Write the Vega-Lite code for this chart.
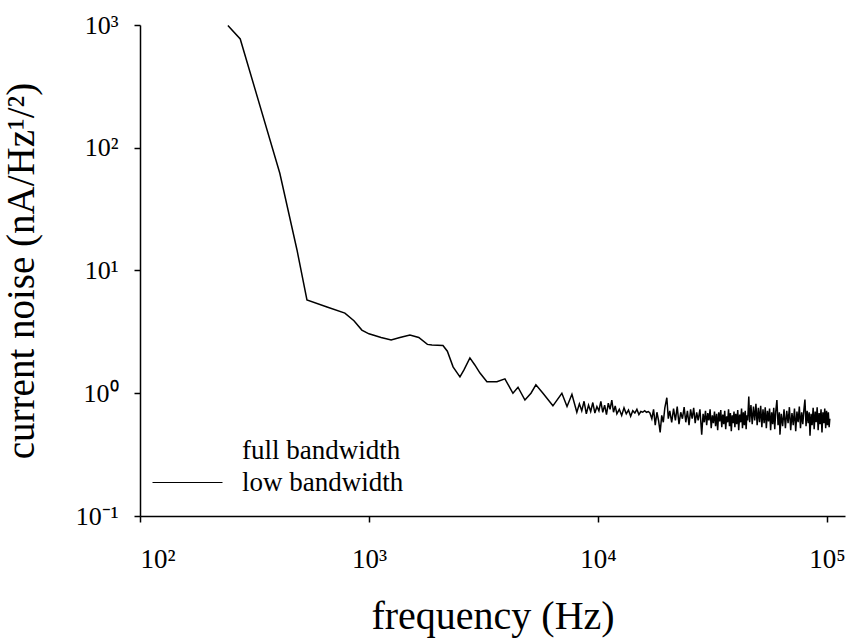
{
  "$schema": "https://vega.github.io/schema/vega-lite/v6.json",
  "width": 705,
  "height": 491,
  "autosize": {"type": "none"},
  "padding": {"left": 140, "top": 25, "right": 3, "bottom": 123},
  "background": "white",
  "config": {
    "view": {"stroke": null},
    "font": "Liberation Serif",
    "axis": {
      "grid": false,
      "domainColor": "black",
      "tickColor": "black",
      "labelColor": "black",
      "titleColor": "black",
      "labelFont": "Liberation Serif",
      "titleFont": "Liberation Serif",
      "titleFontWeight": "normal",
      "domainWidth": 1.5,
      "tickWidth": 1.5
    }
  },
  "data": {
    "values": [
      {"f": 242, "v": 990}, {"f": 274, "v": 770}, {"f": 408, "v": 62}, {"f": 485, "v": 14.7},
      {"f": 536, "v": 5.75}, {"f": 656, "v": 5.05}, {"f": 785, "v": 4.5}, {"f": 860, "v": 3.9},
      {"f": 931, "v": 3.27}, {"f": 1000, "v": 3.05}, {"f": 1130, "v": 2.85}, {"f": 1250, "v": 2.72},
      {"f": 1365, "v": 2.85}, {"f": 1510, "v": 2.98}, {"f": 1650, "v": 2.85}, {"f": 1800, "v": 2.5},
      {"f": 1884, "v": 2.47}, {"f": 2105, "v": 2.45}, {"f": 2200, "v": 2.2}, {"f": 2330, "v": 1.64},
      {"f": 2497, "v": 1.36}, {"f": 2600, "v": 1.55}, {"f": 2760, "v": 1.94}, {"f": 2900, "v": 1.7},
      {"f": 3055, "v": 1.46}, {"f": 3275, "v": 1.24}, {"f": 3620, "v": 1.24}, {"f": 3925, "v": 1.31},
      {"f": 4255, "v": 1.0}, {"f": 4477, "v": 1.12}, {"f": 4800, "v": 0.88}, {"f": 5100, "v": 1.0},
      {"f": 5360, "v": 1.17}, {"f": 5755, "v": 1.0}, {"f": 6360, "v": 0.79}, {"f": 6960, "v": 1.0},
      {"f": 7330, "v": 0.78}, {"f": 7700, "v": 0.98}, {"f": 8090, "v": 0.70}, {"f": 8300, "v": 0.82},
      {"f": 8500, "v": 0.72}, {"f": 8700, "v": 0.86}, {"f": 8900, "v": 0.68}, {"f": 9100, "v": 0.80},
      {"f": 9300, "v": 0.71}, {"f": 9500, "v": 0.84}, {"f": 9700, "v": 0.69}, {"f": 9900, "v": 0.78},
      {"f": 10100, "v": 0.72}, {"f": 10300, "v": 0.86}, {"f": 10500, "v": 0.70}, {"f": 10700, "v": 0.80},
      {"f": 10900, "v": 0.67}, {"f": 11100, "v": 0.83}, {"f": 11300, "v": 0.74}, {"f": 11500, "v": 0.88},
      {"f": 11700, "v": 0.70}, {"f": 11900, "v": 0.79}, {"f": 12100, "v": 0.68}, {"f": 12400, "v": 0.74},
      {"f": 12700, "v": 0.66}, {"f": 13000, "v": 0.76}, {"f": 13300, "v": 0.68}, {"f": 13600, "v": 0.73},
      {"f": 13900, "v": 0.65}, {"f": 14200, "v": 0.72}, {"f": 14500, "v": 0.69}, {"f": 14800, "v": 0.74},
      {"f": 15100, "v": 0.67}, {"f": 15400, "v": 0.71}, {"f": 15700, "v": 0.70}, {"f": 16000, "v": 0.72},
      {"f": 16300, "v": 0.70}, {"f": 16600, "v": 0.71}, {"f": 16870, "v": 0.69}, {"f": 17200, "v": 0.62},
      {"f": 17500, "v": 0.74}, {"f": 17800, "v": 0.55}, {"f": 18100, "v": 0.70}, {"f": 18400, "v": 0.60},
      {"f": 18700, "v": 0.48}, {"f": 19000, "v": 0.66}, {"f": 19300, "v": 0.58}, {"f": 19600, "v": 0.76},
      {"f": 20000, "v": 0.92}, {"f": 20300, "v": 0.62}, {"f": 20600, "v": 0.72}, {"f": 21000, "v": 0.58},
      {"f": 21400, "v": 0.75}, {"f": 21800, "v": 0.60}, {"f": 22200, "v": 0.78}, {"f": 22600, "v": 0.56},
      {"f": 23000, "v": 0.70}, {"f": 23400, "v": 0.62}, {"f": 23800, "v": 0.77}, {"f": 24200, "v": 0.58},
      {"f": 24600, "v": 0.72}, {"f": 25000, "v": 0.55}, {"f": 25400, "v": 0.74}, {"f": 25800, "v": 0.62},
      {"f": 26200, "v": 0.76}, {"f": 26600, "v": 0.57}, {"f": 27000, "v": 0.70}, {"f": 27400, "v": 0.60},
      {"f": 27900, "v": 0.74}, {"f": 28400, "v": 0.46}, {"f": 28800, "v": 0.68}, {"f": 29150, "v": 0.58},
      {"f": 29500, "v": 0.72}, {"f": 29850, "v": 0.55}, {"f": 30200, "v": 0.69}, {"f": 30550, "v": 0.60},
      {"f": 30900, "v": 0.74}, {"f": 31250, "v": 0.52}, {"f": 31600, "v": 0.66}, {"f": 31950, "v": 0.57},
      {"f": 32300, "v": 0.71}, {"f": 32650, "v": 0.54}, {"f": 33000, "v": 0.68}, {"f": 33350, "v": 0.50},
      {"f": 33700, "v": 0.70}, {"f": 34050, "v": 0.59}, {"f": 34400, "v": 0.73}, {"f": 34750, "v": 0.53},
      {"f": 35100, "v": 0.67}, {"f": 35450, "v": 0.56}, {"f": 35800, "v": 0.72}, {"f": 36150, "v": 0.51},
      {"f": 36500, "v": 0.65}, {"f": 36850, "v": 0.58}, {"f": 37200, "v": 0.74}, {"f": 37550, "v": 0.54},
      {"f": 37900, "v": 0.69}, {"f": 38250, "v": 0.49}, {"f": 38600, "v": 0.66}, {"f": 38950, "v": 0.57},
      {"f": 39300, "v": 0.71}, {"f": 39650, "v": 0.53}, {"f": 40000, "v": 0.68}, {"f": 40400, "v": 0.56},
      {"f": 40800, "v": 0.73}, {"f": 41200, "v": 0.50}, {"f": 41600, "v": 0.67}, {"f": 42000, "v": 0.58},
      {"f": 42400, "v": 0.75}, {"f": 42800, "v": 0.52}, {"f": 43200, "v": 0.70}, {"f": 43600, "v": 0.55},
      {"f": 44000, "v": 0.72}, {"f": 44400, "v": 0.51}, {"f": 44700, "v": 0.66}, {"f": 45100, "v": 0.60},
      {"f": 45600, "v": 0.94}, {"f": 46000, "v": 0.58}, {"f": 46600, "v": 0.80}, {"f": 47200, "v": 0.56},
      {"f": 47800, "v": 0.78}, {"f": 48400, "v": 0.60}, {"f": 49000, "v": 0.82}, {"f": 49600, "v": 0.55},
      {"f": 50200, "v": 0.76}, {"f": 50800, "v": 0.58}, {"f": 51400, "v": 0.79}, {"f": 52000, "v": 0.53},
      {"f": 52600, "v": 0.74}, {"f": 53200, "v": 0.57}, {"f": 53800, "v": 0.77}, {"f": 54400, "v": 0.52},
      {"f": 55000, "v": 0.72}, {"f": 55600, "v": 0.59}, {"f": 56200, "v": 0.75}, {"f": 56800, "v": 0.50},
      {"f": 57400, "v": 0.70}, {"f": 58000, "v": 0.56}, {"f": 58600, "v": 0.76}, {"f": 59200, "v": 0.51},
      {"f": 59800, "v": 0.71}, {"f": 60500, "v": 0.88}, {"f": 61200, "v": 0.55}, {"f": 62000, "v": 0.70},
      {"f": 62400, "v": 0.46}, {"f": 63200, "v": 0.68}, {"f": 64100, "v": 0.54}, {"f": 65000, "v": 0.74},
      {"f": 65900, "v": 0.52}, {"f": 66800, "v": 0.72}, {"f": 67700, "v": 0.57}, {"f": 68600, "v": 0.77},
      {"f": 69500, "v": 0.50}, {"f": 70400, "v": 0.69}, {"f": 71300, "v": 0.55}, {"f": 72200, "v": 0.75},
      {"f": 73100, "v": 0.49}, {"f": 74000, "v": 0.71}, {"f": 74900, "v": 0.58}, {"f": 75800, "v": 0.78},
      {"f": 76700, "v": 0.52}, {"f": 77600, "v": 0.70}, {"f": 78500, "v": 0.56}, {"f": 79400, "v": 0.74},
      {"f": 80200, "v": 0.89}, {"f": 81100, "v": 0.54}, {"f": 82000, "v": 0.72}, {"f": 82900, "v": 0.57},
      {"f": 83700, "v": 0.70}, {"f": 84400, "v": 0.45}, {"f": 85300, "v": 0.68}, {"f": 86200, "v": 0.55},
      {"f": 87100, "v": 0.76}, {"f": 88000, "v": 0.51}, {"f": 88900, "v": 0.71}, {"f": 89800, "v": 0.58},
      {"f": 90700, "v": 0.77}, {"f": 91600, "v": 0.50}, {"f": 92500, "v": 0.69}, {"f": 93400, "v": 0.56},
      {"f": 94300, "v": 0.74}, {"f": 95200, "v": 0.48}, {"f": 96100, "v": 0.70}, {"f": 97000, "v": 0.57},
      {"f": 97900, "v": 0.75}, {"f": 98800, "v": 0.52}, {"f": 99700, "v": 0.72}, {"f": 100600, "v": 0.55},
      {"f": 101500, "v": 0.70}, {"f": 102300, "v": 0.53}, {"f": 103000, "v": 0.62}
    ]
  },
  "mark": {"type": "line", "strokeWidth": 1.5},
  "encoding": {
    "x": {
      "field": "f",
      "type": "quantitative",
      "scale": {"type": "log", "domain": [100, 120000]},
      "axis": {
        "values": [100, 1000, 10000, 100000],
        "labelExpr": "datum.value == 100 ? '10²' : datum.value == 1000 ? '10³' : datum.value == 10000 ? '10⁴' : '10⁵'",
        "labelFontSize": 27,
        "tickSize": 6,
        "labelPadding": 24,
        "title": "frequency (Hz)",
        "titleFontSize": 40,
        "titlePadding": 24
      }
    },
    "y": {
      "field": "v",
      "type": "quantitative",
      "scale": {"type": "log", "domain": [0.1, 1000]},
      "axis": {
        "values": [0.1, 1, 10, 100, 1000],
        "labelExpr": "datum.value < 0.5 ? '10⁻¹' : datum.value < 5 ? '10⁰' : datum.value < 50 ? '10¹' : datum.value < 500 ? '10²' : '10³'",
        "labelFontSize": 26,
        "tickSize": 6,
        "labelPadding": 16,
        "title": "current noise (nA/Hz¹/²)",
        "titleFontSize": 39,
        "titlePadding": 34
      }
    },
    "color": {
      "datum": "low bandwidth",
      "type": "nominal",
      "scale": {"domain": ["full bandwidth", "low bandwidth"], "range": ["transparent", "black"]},
      "legend": {
        "orient": "none",
        "legendX": 34,
        "legendY": 412,
        "title": null,
        "padding": 0,
        "symbolType": "M-5,0H5",
        "symbolSize": 196,
        "symbolStrokeWidth": 1.2,
        "labelFont": "Liberation Serif",
        "labelFontSize": 27,
        "labelColor": "black",
        "labelLimit": 0,
        "labelOffset": 41,
        "rowPadding": 4
      }
    }
  }
}
